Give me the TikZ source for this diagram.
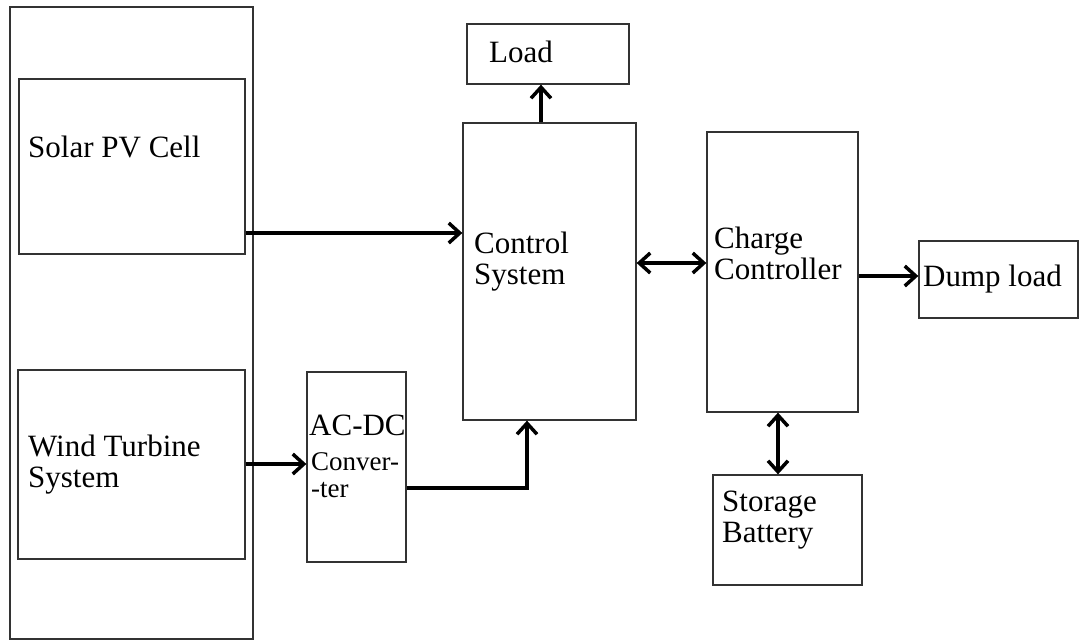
\documentclass[tikz,border=0pt]{standalone}
\usepackage{fontspec}
\setmainfont{Liberation Serif}
\usetikzlibrary{arrows.meta}

\tikzset{
  kastenstil/.style={draw=black!80, line width=1.3pt, inner sep=0pt},
  schriftstil/.style={inner sep=0pt, align=left, font=\fontsize{31}{31}\selectfont},
  kleinschrift/.style={inner sep=0pt, align=left, font=\fontsize{27}{27}\selectfont},
  pfeil/.style={line width=3.5pt, -{Straight Barb[length=11pt,width=20pt]}},
  pfeilzwei/.style={line width=3.5pt, {Straight Barb[length=11pt,width=20pt]}-{Straight Barb[length=11pt,width=20pt]}}
}

% (name, x_left, y_top, x_right, y_bottom)
\newcommand{\kasten}[5]{
    \node[kastenstil, minimum width={(#4-#2)*1pt}, minimum height={(#5-#3)*1pt}]
      (#1) at ({(#2+#4)/2}, {(#3+#5)/2}) {};
}
% (name, x_left, y_baseline of last line, text)
\newcommand{\beschrift}[4]{
    \node[schriftstil, anchor=base west] (#1) at (#2, #3) {#4};
}

\begin{document}
\begin{tikzpicture}[x=1pt, y=-1pt]

  \useasboundingbox (0,0) rectangle (1080,641);

  \kasten{quellen}{10}{7}{253}{639}
  \kasten{solar}{19}{79}{245}{254}
  \kasten{wind}{18}{370}{245}{559}
  \kasten{acdc}{307}{372}{406}{562}
  \kasten{ctrl}{463}{123}{636}{420}
  \kasten{load}{467}{24}{629}{84}
  \kasten{charge}{707}{132}{858}{412}
  \kasten{dump}{919}{241}{1078}{318}
  \kasten{storage}{713}{475}{862}{585}

  \beschrift{solartxt}{28}{157}{Solar PV Cell}
  \beschrift{windtxt}{28}{487}{Wind Turbine\\System}
  \beschrift{acdctxt}{309}{435}{AC-DC}
  \node[kleinschrift, anchor=base west] (convtxt) at (311, 497) {Conver-\\-ter};
  \beschrift{ctrltxt}{474}{284}{Control\\System}
  \beschrift{loadtxt}{489}{62}{Load}
  \beschrift{chargetxt}{714}{279}{Charge\\Controller}
  \beschrift{dumptxt}{923}{286}{Dump load}
  \beschrift{storagetxt}{722}{542}{Storage\\Battery}

  % rows and columns of the connectors
  \coordinate (r1) at (0,233);
  \coordinate (r2) at (0,464);
  \coordinate (r3) at (527,488);
  \coordinate (r4) at (0,263);
  \coordinate (r5) at (0,276);
  \coordinate (c1) at (541,0);
  \coordinate (c2) at (778,0);

  \draw[pfeil] (solar.east |- r1) -- (ctrl.west |- r1);
  \draw[pfeil] (wind.east |- r2) -- (acdc.west |- r2);
  \draw[pfeil] (acdc.east |- r3) -| (ctrl.south -| r3);
  \draw[pfeil] (ctrl.north -| c1) -- (load.south -| c1);
  \draw[pfeilzwei] (ctrl.east |- r4) -- (charge.west |- r4);
  \draw[pfeil] (charge.east |- r5) -- (dump.west |- r5);
  \draw[pfeilzwei] (charge.south -| c2) -- (storage.north -| c2);

\end{tikzpicture}
\end{document}
